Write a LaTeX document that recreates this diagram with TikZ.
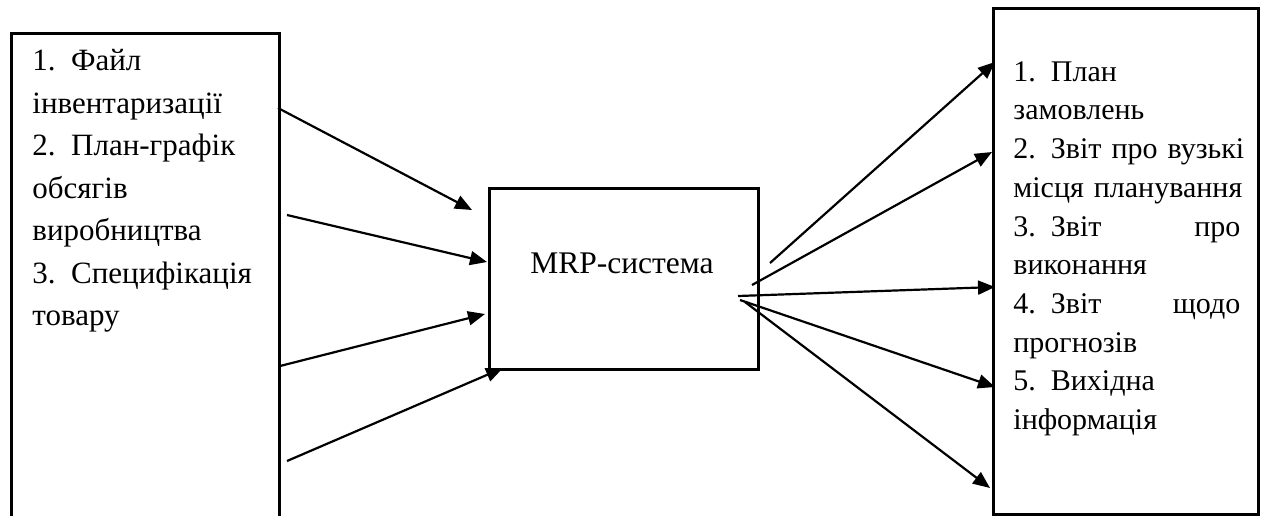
\documentclass[tikz,border=0pt]{standalone}
\usepackage{fontspec}
\setmainfont{Liberation Serif}
\usetikzlibrary{arrows.meta,positioning}
\tikzset{blockbox/.style={draw,line width=1.3pt,inner sep=0pt,anchor=north west},
 flowarr/.style={-{Triangle[length=8.5pt,width=7pt]},line width=1.1pt},
 listtext/.style={inner sep=0pt,anchor=north west,align=left}}
\newcommand{\spreadline}[2]{\leavevmode\hbox to 113.5pt{#1\hfill #2}}
\newcommand{\numgap}{\hspace{0.5em}}

\begin{document}
\begin{tikzpicture}[x=0.5pt,y=-0.5pt]
\useasboundingbox (0,0) rectangle (1267,515);
\clip (0,0) rectangle (1267,515);
% boxes
\node[blockbox,minimum width=134pt,minimum height=254pt] (inputs) at (10,32) {};
\node[blockbox,minimum width=134.5pt,minimum height=90.5pt] (mrp) at (488,187) {};
\node[blockbox,minimum width=132.5pt,minimum height=253pt] (outputs) at (992,7) {};
% texts
\node[listtext,font=\fontsize{15.5}{21.25}\selectfont] (intext) at (32,49)
 {1.\numgap Файл\\інвентаризації\\2.\numgap План-графік\\обсягів\\виробництва\\3.\numgap Специфікація\\товару};
\node[anchor=base,font=\fontsize{15.75}{18}\selectfont] (mrptext) at (622,273) {MRP-система};
\node[listtext,text width=122pt,font=\fontsize{15}{19.35}\selectfont] (outtext) at (1013,61)
 {1.\numgap План\\замовлень\\2.\numgap Звіт про вузькі\\місця планування\\
 \spreadline{3.\numgap Звіт}{про}\\виконання\\\spreadline{4.\numgap Звіт}{щодо}\\прогнозів\\
 5.\numgap Вихідна\\інформація};
% arrow ends
\coordinate (in1) at (278,108); \coordinate (to1) at (472,210);
\coordinate (in2) at (287,215); \coordinate (to2) at (487,262);
\coordinate (in3) at (280,366); \coordinate (to3) at (485,314);
\coordinate (in4) at (287,461); \coordinate (to4) at (503,368);
\coordinate (out1) at (770,263); \coordinate (res1) at (995,62);
\coordinate (out2) at (752,285); \coordinate (res2) at (992,152);
\coordinate (out3) at (738,296); \coordinate (res3) at (995,287);
\coordinate (out4) at (740,300); \coordinate (res4) at (995,387);
\coordinate (out5) at (745,302); \coordinate (res5) at (990,488);
% arrows
\draw[flowarr] (in1) -- (to1);
\draw[flowarr] (in2) -- (to2);
\draw[flowarr] (in3) -- (to3);
\draw[flowarr] (in4) -- (to4);
\draw[flowarr] (out1) -- (res1);
\draw[flowarr] (out2) -- (res2);
\draw[flowarr] (out3) -- (res3);
\draw[flowarr] (out4) -- (res4);
\draw[flowarr] (out5) -- (res5);
\end{tikzpicture}
\end{document}
